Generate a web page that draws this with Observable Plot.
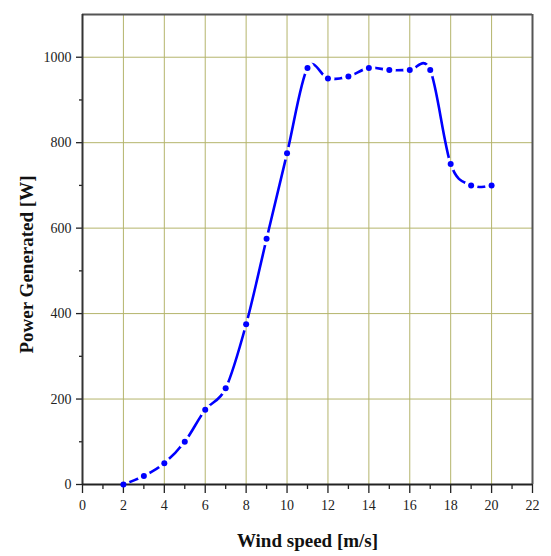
<!DOCTYPE html>
<html>
<head>
<meta charset="utf-8">
<script src="https://cdn.jsdelivr.net/npm/d3@7"></script>
<script src="https://cdn.jsdelivr.net/npm/@observablehq/plot@0.6"></script>
<style>
  html, body { margin: 0; padding: 0; background: #fff; }
</style>
</head>
<body>
<div id="chart"></div>
<script>
// Data
const windSpeed = [2, 3, 4, 5, 6, 7, 8, 9, 10, 11, 12, 13, 14, 15, 16, 17, 18, 19, 20];
const powerGenerated = [0, 20, 50, 100, 175, 225, 375, 575, 775, 975, 950, 955, 975, 970, 970, 970, 750, 700, 700];

const xMajorTicks = [0, 2, 4, 6, 8, 10, 12, 14, 16, 18, 20, 22];
const xMinorTicks = [1, 3, 5, 7, 9, 11, 13, 15, 17, 19, 21];
const xGridTicks = [2, 4, 6, 8, 10, 12, 14, 16, 18, 20];
const yMajorTicks = [0, 200, 400, 600, 800, 1000];
const yMinorTicks = [100, 300, 500, 700, 900];
const yGridTicks = [200, 400, 600, 800, 1000];

const xTitle = "Wind speed [m/s]";
const yTitle = "Power Generated [W]";

const data = windSpeed.map((s, i) => ({speed: s, power: powerGenerated[i]}));

const serif = "'Liberation Serif', 'DejaVu Serif', serif";
const gridColor = "#b5b56c";
const blue = "#0000ff";

const svg = Plot.plot({
  width: 551,
  height: 556,
  marginLeft: 82,
  marginRight: 19,
  marginTop: 14,
  marginBottom: 72,
  style: {fontFamily: serif, fontSize: "14px", color: "#222", background: "#fff"},
  x: {domain: [0, 22]},
  y: {domain: [0, 1100]},
  marks: [
    Plot.gridX(xGridTicks, {stroke: gridColor, strokeOpacity: 1, strokeWidth: 1}),
    Plot.gridY(yGridTicks, {stroke: gridColor, strokeOpacity: 1, strokeWidth: 1}),
    Plot.axisX(xMajorTicks, {tickSize: 9, tickPadding: 7, label: null, stroke: "#222", strokeWidth: 1.3, fontSize: 14, fontFamily: serif, tickFormat: d3.format("d")}),
    Plot.axisX(xMinorTicks, {tickSize: 5, text: null, label: null, stroke: "#222", strokeWidth: 1.3}),
    Plot.axisY(yMajorTicks, {tickSize: 6, tickPadding: 5, label: null, stroke: "#222", strokeWidth: 1.3, fontSize: 14, fontFamily: serif, tickFormat: d3.format("d")}),
    Plot.axisY(yMinorTicks, {tickSize: 3, text: null, label: null, stroke: "#222", strokeWidth: 1.3}),
    Plot.ruleY([1100], {stroke: "#555", strokeWidth: 2}),
    Plot.ruleX([22], {stroke: "#555", strokeWidth: 2}),
    Plot.ruleX([0], {stroke: "#333", strokeWidth: 2}),
    Plot.ruleY([0], {stroke: "#222", strokeWidth: 1.8}),
    Plot.line(data, {x: "speed", y: "power", curve: "cardinal", stroke: blue, strokeWidth: 2.6}),
    Plot.dot(data, {x: "speed", y: "power", r: 3, fill: blue, stroke: "none"}),
    Plot.text([xTitle], {frameAnchor: "bottom", dy: 62, fontSize: 19, fontWeight: "bold", fill: "#111", fontFamily: serif}),
    Plot.text([yTitle], {frameAnchor: "left", textAnchor: "middle", rotate: -90, dx: -56, dy: 15, fontSize: 19, fontWeight: "bold", fill: "#111", fontFamily: serif})
  ]
});

// Break the line around each marker (gaps), using the dot mark's own positions
const ns = "http://www.w3.org/2000/svg";
const lineG = svg.querySelector('g[aria-label="line"]');
const dotCircles = svg.querySelectorAll('g[aria-label="dot"] circle');
if (lineG && dotCircles.length) {
  const defs = document.createElementNS(ns, "defs");
  const mask = document.createElementNS(ns, "mask");
  mask.setAttribute("id", "gapmask");
  mask.setAttribute("maskUnits", "userSpaceOnUse");
  mask.setAttribute("x", 0); mask.setAttribute("y", 0);
  mask.setAttribute("width", 551); mask.setAttribute("height", 556);
  const rect = document.createElementNS(ns, "rect");
  rect.setAttribute("width", 551); rect.setAttribute("height", 556); rect.setAttribute("fill", "white");
  mask.appendChild(rect);
  dotCircles.forEach(c => {
    const k = c.cloneNode(false);
    k.setAttribute("r", 6.5);
    k.setAttribute("fill", "black");
    k.removeAttribute("stroke");
    mask.appendChild(k);
  });
  defs.appendChild(mask);
  svg.insertBefore(defs, svg.firstChild);
  lineG.setAttribute("mask", "url(#gapmask)");
}

document.getElementById("chart").appendChild(svg);
</script>
</body>
</html>
